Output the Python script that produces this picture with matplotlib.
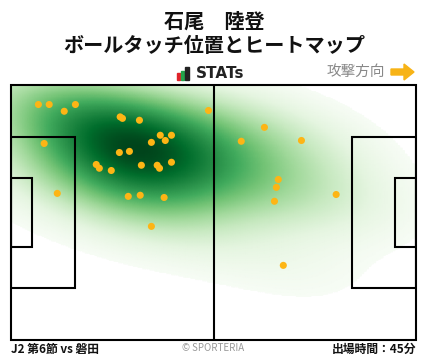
import numpy as np
import matplotlib
matplotlib.use("Agg")
import matplotlib.pyplot as plt
from matplotlib.patches import Rectangle, Polygon

plt.rcParams["font.family"] = ["Noto Sans CJK JP", "DejaVu Sans"]

# ==========================================================
# DATA (pitch metres, 105 x 68, y measured from top touchline)
# ==========================================================

title_name = "石尾　陸登"
title_sub = "ボールタッチ位置とヒートマップ"
match_label = "J2 第6節 vs 磐田"
minutes_label = "出場時間：45分"

touch_x = [
    7.1, 9.9, 13.8, 16.7, 8.6, 12.0, 28.3, 28.9, 33.3, 38.7,
    41.6, 40.0, 36.4, 28.1, 30.7, 22.1, 22.9, 26.0, 33.8, 37.9,
    38.5, 41.6, 30.4, 33.5, 39.7, 36.4, 51.2, 65.7, 59.7, 75.3,
    69.3, 68.8, 68.3, 84.3, 70.6,
]
touch_y = [
    5.2, 5.2, 7.0, 5.2, 15.6, 28.9, 8.5, 8.9, 9.4, 13.4,
    13.4, 14.8, 15.3, 18.0, 17.7, 21.2, 22.2, 22.8, 21.4, 21.4,
    22.2, 20.6, 29.7, 29.4, 30.0, 37.7, 6.8, 11.3, 15.0, 14.8,
    25.2, 27.3, 31.0, 29.2, 48.1,
]

PITCH_L, PITCH_W = 105.0, 68.0
BW_ADJUST = 1.6
THRESH = 0.04

# ==========================================================
# FIGURE
# ==========================================================

fig = plt.figure(figsize=(4.28, 3.59), dpi=100)
fig.patch.set_facecolor("white")

# background axes in pixel coords for texts / icons
bg = fig.add_axes([0, 0, 1, 1])
bg.set_xlim(0, 428)
bg.set_ylim(359, 0)
bg.axis("off")

# pitch axes
ax = fig.add_axes([11 / 428, 19 / 359, 405 / 428, 255 / 359])
ax.set_xlim(0, PITCH_L)
ax.set_ylim(PITCH_W, 0)
ax.axis("off")

# ----------------------------------------------------------
# KDE heatmap, coloured by iso-proportion (like seaborn kdeplot)
# ----------------------------------------------------------

pts = np.vstack([touch_x, touch_y])
n = pts.shape[1]
factor = n ** (-1.0 / 6.0) * BW_ADJUST
cov = np.cov(pts) * factor ** 2
inv_cov = np.linalg.inv(cov)
bw = np.sqrt(np.diag(cov))

xs = np.linspace(pts[0].min() - 3 * bw[0], pts[0].max() + 3 * bw[0], 300)
ys = np.linspace(pts[1].min() - 3 * bw[1], pts[1].max() + 3 * bw[1], 300)
gx, gy = np.meshgrid(xs, ys)
grid = np.vstack([gx.ravel(), gy.ravel()])
dens = np.zeros(grid.shape[1])
for i in range(n):
    d = grid - pts[:, i:i + 1]
    dens += np.exp(-0.5 * np.sum(d * (inv_cov @ d), axis=0))

# proportion of mass lying below each cell's density
order = np.argsort(dens)
cum = np.cumsum(dens[order])
cum /= cum[-1]
prop = np.empty_like(dens)
prop[order] = cum
prop = prop.reshape(gx.shape)

masked = np.ma.masked_less(prop, THRESH)
ax.pcolormesh(gx, gy, masked, cmap="Greens", vmin=THRESH, vmax=1.0,
              shading="gouraud", zorder=1)

# ----------------------------------------------------------
# Pitch lines
# ----------------------------------------------------------

lw = 1.5
ax.add_patch(Rectangle((0, 0), PITCH_L, PITCH_W, fill=False, lw=lw, ec="black", zorder=3, clip_on=False))
ax.plot([PITCH_L / 2, PITCH_L / 2], [0, PITCH_W], color="black", lw=lw, zorder=3)

pb_w = 40.3
ga_w = 18.3
for x0, sign in [(0, 1), (PITCH_L, -1)]:
    ax.add_patch(Rectangle((x0 if sign > 0 else x0 - 16.5, (PITCH_W - pb_w) / 2), 16.5, pb_w,
                           fill=False, lw=lw, ec="black", zorder=3))
    ax.add_patch(Rectangle((x0 if sign > 0 else x0 - 5.5, (PITCH_W - ga_w) / 2), 5.5, ga_w,
                           fill=False, lw=lw, ec="black", zorder=3))

# ----------------------------------------------------------
# Touches
# ----------------------------------------------------------

ax.scatter(touch_x, touch_y, s=26, color="#fdb515", edgecolors="none", zorder=4)

# ==========================================================
# TEXTS
# ==========================================================

bg.text(214, 21, title_name, ha="center", va="center", fontsize=14.5, fontweight="bold", color="#111111")
bg.text(214, 46, title_sub, ha="center", va="center", fontsize=14.5, fontweight="bold", color="#111111")

# STATs logo
bg.add_patch(Rectangle((177, 73), 3, 7, color="#e0232a"))
bg.add_patch(Rectangle((181, 71), 3, 9, color="#22a24a"))
bg.add_patch(Rectangle((185, 67), 4, 13, color="#222222"))
bg.text(196, 74, "STATs", ha="left", va="center", fontsize=11, fontweight="bold",
        family="DejaVu Sans", color="#222222")

# attack direction
bg.text(385, 72, "攻撃方向", ha="right", va="center", fontsize=10.5, color="#888888")
bg.add_patch(Polygon([(391, 69), (404, 69), (404, 64), (414, 72), (404, 80), (404, 75), (391, 75)],
                     closed=True, color="#f7b316"))

# footer
bg.text(11, 349, match_label, ha="left", va="center", fontsize=8.5, fontweight="bold", color="#111111")
bg.text(213, 348, "© SPORTERIA", ha="center", va="center", fontsize=7, color="#999999")
bg.text(416, 349, minutes_label, ha="right", va="center", fontsize=8.5, fontweight="bold", color="#111111")

fig.savefig("out.png", dpi=100, facecolor="white")
